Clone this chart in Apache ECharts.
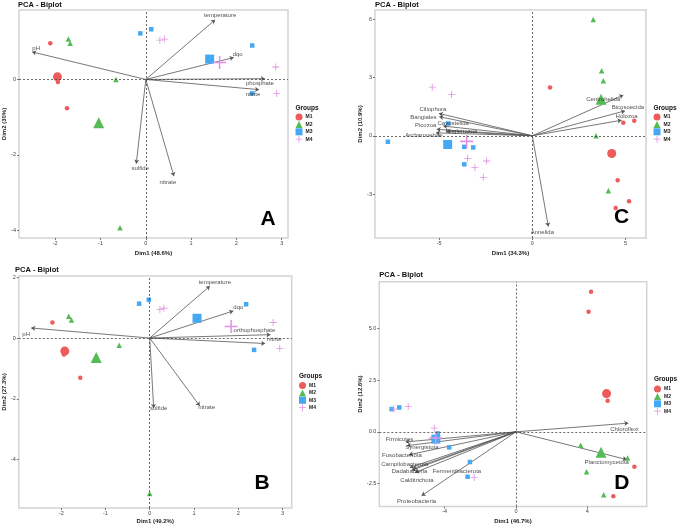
<!DOCTYPE html>
<html>
<head>
<meta charset="utf-8">
<script src="https://cdn.jsdelivr.net/npm/echarts@6/dist/echarts.min.js"></script>
<style>
  html, body { margin: 0; padding: 0; background: #fff; }
  #main { width: 677px; height: 525px; }
</style>
</head>
<body>
<div id="main"></div>
<script>
// values
const groups = ['M1', 'M2', 'M3', 'M4'];

// A
const aM1 = [[-2.11, 0.96], [-1.98, 0.11], [-1.92, 0.06], [-1.94, -0.07], [-1.74, -0.76]];
const aM2 = [[-1.71, 1.07], [-1.67, 0.96], [-0.66, 0.0], [-0.57, -3.93]];
const aM3 = [[-0.12, 1.22], [0.12, 1.33], [2.35, 0.90], [2.35, -0.37]];
const aM4 = [[0.31, 1.04], [0.41, 1.07], [2.87, 0.33], [2.89, -0.37]];
const aMean = [[-1.95, 0.07], [-1.04, -1.15], [1.41, 0.54], [1.63, 0.45]];
const aVars = ['pH', 'temperature', 'dqo', 'phosphate', 'nitrite', 'sulfide', 'nitrate'];
const aVarX = [-2.51, 1.53, 1.94, 2.63, 2.50, -0.21, 0.62];
const aVarY = [0.73, 1.58, 0.58, 0.02, -0.27, -2.23, -2.56];
const aTickX = [-2, -1, 0, 1, 2, 3];
const aTickY = [-4, -2, 0];

// B
const bM1 = [[-2.20, 0.51], [-1.90, -0.40], [-1.94, -0.54], [-1.57, -1.31]];
const bM2 = [[-1.83, 0.72], [-1.77, 0.59], [-0.69, -0.24], [0.0, -5.11]];
const bM3 = [[-0.24, 1.13], [-0.02, 1.26], [2.18, 1.11], [2.36, -0.39]];
const bM4 = [[0.23, 0.94], [0.32, 0.98], [2.79, 0.51], [2.94, -0.34]];
const bMean = [[-1.92, -0.43], [-1.21, -0.64], [1.07, 0.65], [1.84, 0.38]];
const bVars = ['pH', 'temperature', 'dqo', 'orthophosphate', 'nitrite', 'sulfide', 'nitrate'];
const bVarX = [-2.68, 1.36, 1.89, 2.73, 2.61, 0.09, 1.13];
const bVarY = [0.33, 1.71, 0.89, 0.11, -0.18, -2.30, -2.23];
const bTickX = [-2, -1, 0, 1, 2, 3];
const bTickY = [-4, -2, 0, 2];

// C
const cM1 = [[0.95, 2.48], [4.88, 0.67], [5.47, 0.77], [4.58, -2.29], [5.19, -3.37], [4.47, -3.72]];
const cM2 = [[3.27, 5.98], [3.72, 3.34], [3.81, 2.83], [3.42, 0.0], [4.08, -2.83]];
const cM3 = [[-7.75, -0.31], [-4.51, 0.63], [-3.65, -0.57], [-3.17, -0.60], [-3.65, -1.47]];
const cM4 = [[-5.37, 2.50], [-4.33, 2.12], [-3.47, -1.16], [-3.08, -1.64], [-2.45, -1.30], [-2.63, -2.14]];
const cMean = [[4.26, -0.91], [3.69, 1.88], [-4.54, -0.45], [-3.52, -0.29]];
const cVars = ['Ciliophora', 'Bangiales', 'Cavostelida', 'Picozoa', 'Euglenozoa', 'Archamoebae',
  'Centrohelida', 'Bicosoecida', 'Holozoa', 'Annelida'];
const cVarX = [-5.01, -4.99, -4.78, -5.13, -4.60, -5.17, 4.88, 4.97, 4.79, 0.86];
const cVarY = [1.15, 0.98, 0.50, 0.33, 0.24, 0.15, 2.09, 1.28, 0.80, -4.67];
const cTickX = [-5, 0, 5];
const cTickY = [-3, 0, 3, 6];

// D
const dM1 = [[4.21, 6.77], [4.07, 5.81], [5.14, 1.50], [6.64, -1.69], [5.46, -3.12]];
const dM2 = [[3.63, -0.65], [6.26, -1.27], [3.96, -1.93], [4.92, -3.04]];
const dM3 = [[-6.97, 1.10], [-6.54, 1.18], [-4.39, -0.08], [-4.50, -0.45], [-3.74, -0.75], [-2.58, -1.46], [-2.71, -2.17]];
const dM4 = [[-6.84, 1.10], [-6.04, 1.23], [-4.58, 0.18], [-2.34, -2.21]];
const dMean = [[5.08, 1.85], [4.77, -0.99], [-4.49, -0.35], [-4.50, -0.30]];
const dVars = ['Chloroflexi', 'Planctomycetota', 'Firmicutes', 'Synergistota', 'Fusobacteriota',
  'Campilobacterota', 'Dadabacteria', 'Fermentibacterota', 'Calditrichota', 'Proteobacteria'];
const dVarX = [6.30, 6.21, -6.19, -6.11, -6.00, -5.95, -5.85, -5.78, -5.66, -5.29];
const dVarY = [0.42, -1.34, -0.49, -0.67, -1.11, -1.73, -1.86, -1.78, -1.97, -3.09];
const dTickX = [-4, 0, 4];
const dTickY = [-2.5, 0, 2.5, 5];

// label nudges in px (kept apart from the values)
const aNudge = [[4, -4], [5, -4], [4, -3], [-5, 5], [-6, 5], [4, 5], [-6, 6]];
const bNudge = [[-5, 6], [5, -4], [5, -4], [-16, -4], [9, -4], [5, 0], [7, 2]];
const cNudge = [[-6, -4], [-16, 1], [10, -3], [-11, -4], [15, 0], [-12, 2], [-20, 4], [3, -4], [5, -4], [-6, 6]];
const dNudge = [[-4, 6], [-20, 3], [-6, -3], [15, 2], [-7, 1], [-5, -3], [-2, 1], [44, 3], [2, 8], [-5, 6]];

const colors = ['#ee5b5b', '#55bb55', '#45a8f2', '#e391e6'];
const plus = 'path://M4.4,0H5.6V10H4.4Z M0,4.4H10V5.6H0Z';
const shapes = ['circle', 'triangle', 'rect', plus];
const smallSize = [4.5, 5.5, 4.5, 7];
const bigSize = [9, 11, 9, 13];

const panels = [
  { pts: [aM1, aM2, aM3, aM4], mean: aMean, vars: aVars, vx: aVarX, vy: aVarY, nudge: aNudge,
    tx: aTickX, ty: aTickY, xname: 'Dim1 (48.6%)', yname: 'Dim2 (30%)', letter: 'A',
    box: { left: 18, top: 10, width: 270, height: 228 }, xr: [-2.80, 3.14], yr: [-4.20, 1.84],
    xGap: 6, yGap: 8, titleTop: 0.5, legLeft: 295.5, legTop: 113.5, grpTop: 108.5, letterXY: [268, 219.5] },
  { pts: [bM1, bM2, bM3, bM4], mean: bMean, vars: bVars, vx: bVarX, vy: bVarY, nudge: bNudge,
    tx: bTickX, ty: bTickY, xname: 'Dim1 (49.2%)', yname: 'Dim2 (27.3%)', letter: 'B',
    box: { left: 15, top: 276, width: 276.7, height: 237.3 }, xr: [-2.96, 3.21], yr: [-5.59, 2.04],
    xGap: 4, yGap: 7, titleTop: 265.5, legLeft: 299, legTop: 382, grpTop: 376.7, letterXY: [262, 483.7] },
  { pts: [cM1, cM2, cM3, cM4], mean: cMean, vars: cVars, vx: cVarX, vy: cVarY, nudge: cNudge,
    tx: cTickX, ty: cTickY, xname: 'Dim1 (34.3%)', yname: 'Dim2 (10.9%)', letter: 'C',
    box: { left: 375, top: 10, width: 271, height: 228 }, xr: [-8.44, 6.10], yr: [-5.26, 6.47],
    xGap: 6.5, yGap: 7, titleTop: 0.5, legLeft: 653.5, legTop: 113.5, grpTop: 108.3, letterXY: [621.7, 217.5] },
  { pts: [dM1, dM2, dM3, dM4], mean: dMean, vars: dVars, vx: dVarX, vy: dVarY, nudge: dNudge,
    tx: dTickX, ty: dTickY, xname: 'Dim1 (46.7%)', yname: 'Dim2 (12.6%)', letter: 'D',
    box: { left: 379.3, top: 281.7, width: 267.4, height: 227.6 }, xr: [-7.66, 7.33], yr: [-3.61, 7.26],
    xGap: 5.5, yGap: 11, titleTop: 271, legLeft: 654, legTop: 385.5, grpTop: 380, letterXY: [621.8, 483.3], yFmt: 1 }
];

const font = 'Liberation Sans, Arial, sans-serif';
const grid = [], xAxis = [], yAxis = [], series = [], legend = [], title = [], graphic = [];

panels.forEach(function (p, i) {
  grid.push(Object.assign({ show: true, borderColor: '#d4d4d4', borderWidth: 1.5, backgroundColor: '#fff' }, p.box));
  const axisCommon = {
    gridIndex: i, type: 'value', splitLine: { show: false },
    axisLine: { show: false, onZero: false },
    nameTextStyle: { fontSize: 6, fontWeight: 'bold', color: '#222', fontFamily: font },
    nameLocation: 'middle'
  };
  xAxis.push(Object.assign({}, axisCommon, {
    min: p.xr[0], max: p.xr[1], name: p.xname, nameGap: p.xGap + 6,
    axisTick: { length: 2, lineStyle: { color: '#555', width: 0.8 }, customValues: p.tx },
    axisLabel: { fontSize: 5.5, color: '#444', margin: 2, fontFamily: font, customValues: p.tx }
  }));
  yAxis.push(Object.assign({}, axisCommon, {
    min: p.yr[0], max: p.yr[1], name: p.yname, nameGap: p.yGap + 4, nameRotate: 90,
    axisTick: { length: 2, lineStyle: { color: '#555', width: 0.8 }, customValues: p.ty },
    axisLabel: {
      fontSize: 5.5, color: '#444', margin: 3, fontFamily: font, customValues: p.ty,
      formatter: function (v) { return p.yFmt ? v.toFixed(p.yFmt) : String(v); }
    }
  }));

  // loadings arrows
  series.push({
    type: 'lines', coordinateSystem: 'cartesian2d', xAxisIndex: i, yAxisIndex: i, z: 2, silent: true,
    symbol: ['none', 'arrow'], symbolSize: [0, 4],
    lineStyle: { color: '#555', width: 0.8, opacity: 1 },
    data: p.vars.map(function (n, k) { return { coords: [[0, 0], [p.vx[k], p.vy[k]]] }; })
  });
  // arrow labels + zero reference lines
  series.push({
    type: 'scatter', xAxisIndex: i, yAxisIndex: i, z: 5, silent: true, symbolSize: 0,
    label: { show: true, position: 'inside', formatter: '{b}', fontSize: 6, color: '#222', fontFamily: font },
    data: p.vars.map(function (n, k) {
      return { name: n, value: [p.vx[k], p.vy[k]], label: { offset: p.nudge[k] } };
    }),
    markLine: {
      silent: true, symbol: 'none', label: { show: false },
      lineStyle: { color: '#444', width: 0.8, type: [2, 2] },
      data: [{ xAxis: 0 }, { yAxis: 0 }]
    }
  });
  // individuals and group means
  groups.forEach(function (g, k) {
    series.push({
      name: g, type: 'scatter', xAxisIndex: i, yAxisIndex: i, z: 3,
      symbol: shapes[k], symbolSize: smallSize[k], itemStyle: { color: colors[k], opacity: 1 },
      data: p.pts[k]
    });
    series.push({
      name: g, type: 'scatter', xAxisIndex: i, yAxisIndex: i, z: 4,
      symbol: shapes[k], symbolSize: bigSize[k], itemStyle: { color: colors[k], opacity: 1 },
      data: [p.mean[k]]
    });
  });

  legend.push({
    orient: 'vertical', left: p.legLeft, top: p.legTop, padding: 0,
    itemWidth: 7, itemHeight: 7, itemGap: 0.4, selectedMode: false,
    textStyle: { fontSize: 5, fontWeight: 'bold', color: '#222', fontFamily: font, padding: [0, 0, 0, -2] },
    data: groups.map(function (g, k) { return { name: g, icon: shapes[k] }; })
  });

  title.push({
    text: 'PCA - Biplot', left: p.box.left, top: p.titleTop, padding: 0,
    textStyle: { fontSize: 7.5, fontWeight: 'bold', color: '#111', fontFamily: font }
  });

  graphic.push({
    type: 'text', left: p.legLeft, top: p.grpTop - 4,
    style: { text: 'Groups', fontSize: 6.5, fontWeight: 'bold', fill: '#111', fontFamily: font }
  });
  graphic.push({
    type: 'text', x: p.letterXY[0], y: p.letterXY[1],
    style: { text: p.letter, fontSize: 21, fontWeight: 'bold', fill: '#000', fontFamily: font,
      align: 'center', verticalAlign: 'middle' }
  });
});

const chart = echarts.init(document.getElementById('main'), null, { renderer: 'canvas' });
chart.setOption({
  animation: false,
  backgroundColor: '#fff',
  title: title, grid: grid, xAxis: xAxis, yAxis: yAxis,
  legend: legend, graphic: graphic, series: series
});
</script>
</body>
</html>
